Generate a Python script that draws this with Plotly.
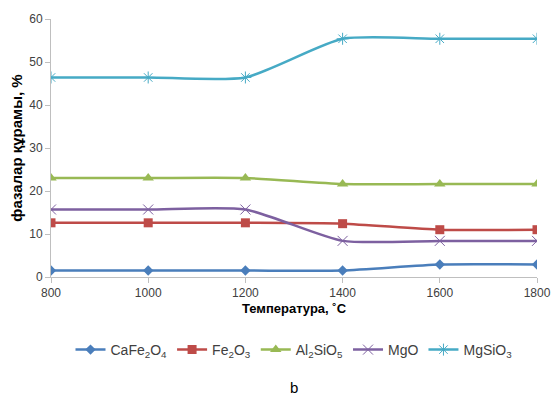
import plotly.graph_objects as go

temps = [800, 1000, 1200, 1400, 1600, 1800]
cafe2o4 = [1.5, 1.5, 1.5, 1.5, 2.9, 2.9]
fe2o3 = [12.6, 12.6, 12.6, 12.4, 11.0, 11.0]
al2sio5 = [23.0, 23.0, 23.0, 21.6, 21.6, 21.6]
mgo = [15.7, 15.7, 15.7, 8.4, 8.4, 8.4]
mgsio3 = [46.4, 46.4, 46.4, 55.4, 55.4, 55.4]

series = [
    ("CaFe<sub>2</sub>O<sub>4</sub>", cafe2o4, "#4A7EBB", "diamond", 8),
    ("Fe<sub>2</sub>O<sub>3</sub>", fe2o3, "#BE4B48", "square", 9),
    ("Al<sub>2</sub>SiO<sub>5</sub>", al2sio5, "#98B954", "triangle-up", 10),
    ("MgO", mgo, "#7D60A0", "x-thin", 10),
    ("MgSiO<sub>3</sub>", mgsio3, "#46AAC5", "asterisk", 10),
]

fig = go.Figure()
for name, vals, color, sym, size in series:
    marker = dict(symbol=sym, size=size, color=color)
    if sym in ("x-thin", "asterisk"):
        marker["line"] = dict(width=1, color=color)
    fig.add_trace(go.Scatter(
        x=temps, y=vals, name=name, mode="lines+markers",
        line=dict(color=color, width=2.5, shape="spline", smoothing=0.6),
        marker=marker,
    ))

# page body has an 8px margin, so the figure is sized to end at the window edges
fig.update_layout(
    width=551, height=388,
    margin=dict(l=43, r=22, t=11, b=119),
    paper_bgcolor="white", plot_bgcolor="white",
    font=dict(family="Liberation Sans, Arial, sans-serif", size=12, color="#404040"),
    showlegend=True,
    legend=dict(orientation="h", x=0.5, xanchor="center", y=-0.283, yanchor="middle",
                font=dict(size=14, color="#404040"), itemwidth=30, tracegroupgap=0),
    xaxis=dict(
        range=[800, 1800], tickvals=temps, ticktext=[str(t) for t in temps],
        showgrid=False, zeroline=False, showline=True, linecolor="#BFBFBF", linewidth=1,
        ticks="outside", ticklen=5, tickcolor="#BFBFBF", automargin=False,
        title=dict(text="<b>Температура, ˚C</b>", font=dict(size=13, color="black"), standoff=4),
    ),
    yaxis=dict(
        range=[0, 60], tickvals=[0, 10, 20, 30, 40, 50, 60],
        showgrid=False, zeroline=False, showline=True, linecolor="#BFBFBF", linewidth=1,
        ticks="outside", ticklen=5, tickcolor="#BFBFBF", automargin=False,
        title=dict(text="<b>фазалар құрамы, %</b>", font=dict(size=15, color="black"), standoff=6),
    ),
    annotations=[dict(text="b", x=0.5, y=-0.43, xref="paper", yref="paper",
                      xanchor="center", yanchor="middle", showarrow=False,
                      font=dict(size=15, color="black"))],
)

fig.write_html("out.html")
